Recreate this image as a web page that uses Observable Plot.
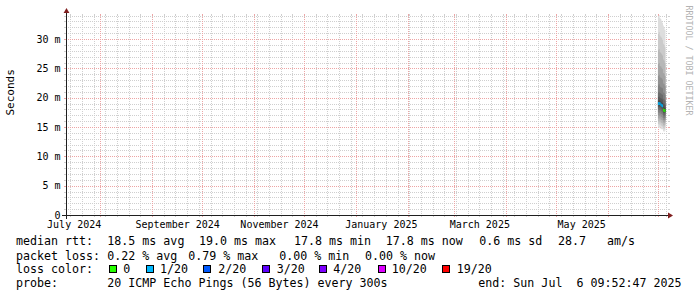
<!DOCTYPE html>
<html><head><meta charset="utf-8">
<script src="https://cdn.jsdelivr.net/npm/d3@7"></script>
<script src="https://cdn.jsdelivr.net/npm/@observablehq/plot@0.6"></script>
<style>
body{margin:0;background:#fff;}
#wrap{position:relative;width:697px;height:297px;background:#fff;overflow:hidden;font-family:"DejaVu Sans Mono",monospace;}
#wrap svg{display:block;}
.lg{position:absolute;font-size:11.65px;line-height:12px;white-space:pre;color:#000;}
.sq{position:absolute;width:6px;height:6px;border:1px solid #000;}
</style></head><body><div id="wrap"></div>
<script>
// ---- data ----
const timeStart = "2024-07-11T09:52:47Z";
const timeEnd = "2025-07-06T09:52:47Z";
const stepTimes = ["2025-07-01T00:00:00Z","2025-07-01T12:00:00Z","2025-07-02T00:00:00Z","2025-07-02T12:00:00Z","2025-07-03T00:00:00Z","2025-07-03T12:00:00Z","2025-07-04T00:00:00Z","2025-07-04T12:00:00Z","2025-07-05T00:00:00Z"];
const stepEnd = "2025-07-05T12:00:00Z";
const medianRtt = [19.0, 19.0, 19.0, 18.8, 18.7, 18.6, 17.9, 17.8, 17.8];
const lossPct = [0.79, 0.30, 0.20, 0.30, 0.20, 0.20, 0, 0, 0];
const pings = [
  [14.9,15.5,16.0,16.5,17.0,17.5,18.0,18.4,18.7,18.9,19.1,19.5,20.1,20.9,22.1,23.7,25.7,28.1,30.9,33.9],
  [14.8,15.4,15.9,16.4,16.9,17.4,17.9,18.3,18.6,18.9,19.1,19.6,20.2,21.0,22.3,23.9,25.9,28.3,31.2,34.1],
  [15.0,15.6,16.1,16.6,17.1,17.6,18.0,18.4,18.7,18.9,19.1,19.5,20.0,20.8,21.9,23.5,25.4,27.8,30.6,33.6],
  [14.7,15.3,15.8,16.3,16.8,17.3,17.8,18.2,18.5,18.7,18.9,19.3,19.9,20.7,21.8,23.4,25.3,27.6,30.4,33.4],
  [14.6,15.2,15.7,16.2,16.7,17.2,17.7,18.1,18.4,18.6,18.8,19.2,19.8,20.6,21.7,23.3,25.1,27.4,30.2,33.1],
  [14.6,15.1,15.6,16.1,16.6,17.1,17.6,18.0,18.3,18.5,18.7,19.1,19.7,20.5,21.6,23.1,24.9,27.2,29.9,32.8],
  [14.3,14.8,15.3,15.8,16.2,16.6,17.0,17.4,17.7,17.8,18.0,18.4,19.0,19.8,20.9,22.4,24.2,26.5,29.2,32.3],
  [14.2,14.7,15.2,15.7,16.1,16.5,16.9,17.3,17.6,17.7,17.9,18.3,18.9,19.7,20.8,22.3,24.1,26.3,29.0,32.0],
  [14.4,14.9,15.4,15.8,16.2,16.6,17.0,17.4,17.6,17.7,17.9,18.3,18.8,19.5,20.5,22.0,23.7,25.9,28.6,31.6]
];
const lossLevels = [0, 1, 2, 3, 4, 10, 19];
const lossLabels = ["0","1/20","2/20","3/20","4/20","10/20","19/20"];
const lossColors = ["#26ff00","#00b8ff","#0059ff","#5e00ff","#7e00ff","#dd00ff","#ff0000"];
const yTicks = [0, 5, 10, 15, 20, 25, 30];
const yTickLabels = ["0","5 m","10 m","15 m","20 m","25 m","30 m"];
const yMax = 34.1;
const xLabelDates = ["2024-07-16T00:00:00Z","2024-09-16T00:00:00Z","2024-11-16T00:00:00Z","2025-01-16T00:00:00Z","2025-03-16T00:00:00Z","2025-05-16T00:00:00Z"];
const xLabels = ["July 2024","September 2024","November 2024","January 2025","March 2025","May 2025"];
const yAxisLabel = "Seconds";
const watermark = "RRDTOOL / TOBI OETIKER";
const legendRtt = ["median rtt:","18.5 ms avg","19.0 ms max","17.8 ms min","17.8 ms now","0.6 ms sd","28.7   am/s"];
const legendLoss = ["packet loss:","0.22 % avg","0.79 % max","0.00 % min","0.00 % now"];
const legendColorTitle = "loss color:";
const legendProbe = ["probe:","20 ICMP Echo Pings (56 Bytes) every 300s","end: Sun Jul  6 09:52:47 2025"];

// ---- build ----
const start = new Date(timeStart), end = new Date(timeEnd);
const weeks = d3.utcSunday.range(start, end);
const months = d3.utcMonth.range(start, end);
const minorY = d3.range(1, 35).filter(v => v % 5 !== 0);
const majorY = yTicks;
const gridGray = "#cfcfcf", gridRed = "#eda5a5", axisCol = "#1f1f1f", arrowCol = "#801f1f";
const crisp = {shapeRendering: "crispEdges"};
const shade = k => { const v = Math.floor(190 / 10 * (10 - (k + 1))) + 50; return `rgb(${v},${v},${v})`; };
const layers = d3.range(10).map(k => {
  const rows = stepTimes.map((t, i) => ({t: new Date(t), lo: pings[i][k], hi: pings[i][19 - k]}));
  const last = pings[pings.length - 1];
  rows.push({t: new Date(stepEnd), lo: last[k], hi: last[19 - k]});
  return rows;
});
const stepEnds = stepTimes.slice(1).concat([stepEnd]);
const lossColorOf = p => { const n = p / 100 * 20; const i = lossLevels.findIndex(l => n <= l); return lossColors[i < 0 ? lossColors.length - 1 : i]; };
const medRows = stepTimes.map((t, i) => ({t0: new Date(t), t1: new Date(stepEnds[i]), lo: medianRtt[i] - 0.25, hi: medianRtt[i] + 0.25, color: lossColorOf(lossPct[i])}));
const yLabMap = new Map(yTicks.map((v, i) => [v, yTickLabels[i]]));
const xLabMap = new Map(xLabelDates.map((d, i) => [+new Date(d), xLabels[i]]));

const tickAx = (fn, vals, anchor, color) => fn(vals, {anchor, tickSize: 2, fill: "none", stroke: color, label: null, ...crisp});

const chart = Plot.plot({
  width: 697, height: 232,
  marginLeft: 66, marginRight: 30, marginTop: 15, marginBottom: 17,
  x: {type: "utc", domain: [start, end], label: null},
  y: {domain: [0, yMax], label: null},
  color: {type: "identity"},
  style: {fontFamily: "'DejaVu Sans Mono', monospace", fontSize: "10px", background: "#fff", color: "#000", overflow: "visible"},
  marks: [
    Plot.ruleY(minorY, {stroke: gridGray, strokeDasharray: "1,1", ...crisp}),
    Plot.ruleX(weeks, {stroke: gridGray, strokeDasharray: "1,1", ...crisp}),
    Plot.ruleY(majorY.filter(v => v > 0), {stroke: gridRed, strokeDasharray: "1,1", ...crisp}),
    Plot.ruleX(months, {stroke: gridRed, strokeDasharray: "1,1", ...crisp}),
    tickAx(Plot.axisY, minorY, "left", gridGray),
    tickAx(Plot.axisY, minorY, "right", gridGray),
    tickAx(Plot.axisY, majorY, "left", gridRed),
    tickAx(Plot.axisY, majorY, "right", gridRed),
    tickAx(Plot.axisX, weeks, "bottom", gridGray),
    tickAx(Plot.axisX, weeks, "top", gridGray),
    tickAx(Plot.axisX, months, "bottom", gridRed),
    tickAx(Plot.axisX, months, "top", gridRed),
    ...layers.map((rows, k) => Plot.area(rows, {x1: "t", y1: "lo", y2: "hi", fill: shade(k), curve: "step-after", clip: true})),
    Plot.rect(medRows, {x1: "t0", x2: "t1", y1: "lo", y2: "hi", fill: "color"}),
    Plot.ruleY([0], {stroke: axisCol, insetLeft: -4, insetRight: -4, ...crisp}),
    Plot.ruleX([start], {stroke: axisCol, insetTop: -4, insetBottom: -4, ...crisp}),
    Plot.dot([0], {frameAnchor: "top-left", symbol: "triangle", r: 2.15, fill: arrowCol, stroke: "none", dy: -4.2}),
    Plot.dot([0], {frameAnchor: "bottom-right", symbol: "triangle", r: 2.15, fill: arrowCol, stroke: "none", rotate: 90, dx: 2.2}),
    Plot.axisY(yTicks, {anchor: "left", tickSize: 0, tickPadding: 6, tickFormat: d => yLabMap.get(d), fill: "#000", label: null}),
    Plot.axisX(xLabelDates.map(d => new Date(d)), {anchor: "bottom", tickSize: 0, tickPadding: 5.5, tickFormat: d => xLabMap.get(+d), fill: "#000", label: null}),
    Plot.text([yAxisLabel], {frameAnchor: "left", text: d => d, rotate: -90, lineAnchor: "bottom", dx: -52.5, fontSize: 11, fill: "#000"}),
    Plot.text([watermark], {frameAnchor: "top-right", text: d => d, rotate: 90, textAnchor: "start", lineAnchor: "bottom", dx: 18, dy: -10, fontSize: 8.3, fill: "#b3b3b3"})
  ]
});
const wrap = document.getElementById("wrap");
wrap.appendChild(chart);

// legend (HTML, below the svg)
const addText = (x, top, s) => { const e = document.createElement("span"); e.className = "lg"; e.style.left = x + "px"; e.style.top = top + "px"; e.textContent = s; wrap.appendChild(e); };
const rttX = [16, 107.3, 199, 294, 385.7, 479.3, 558];
legendRtt.forEach((s, i) => addText(rttX[i], 234.8, s));
const lossX = [16, 107.3, 188.3, 279.3, 365];
legendLoss.forEach((s, i) => addText(lossX[i], 249.5, s));
addText(16, 262.8, legendColorTitle);
const sqX = [109, 146, 203.3, 261.7, 319.3, 378.3, 442.3];
const labX = [123.3, 160, 218.3, 276.7, 333.3, 391.7, 456.7];
lossLabels.forEach((s, i) => {
  const b = document.createElement("span"); b.className = "sq"; b.style.left = sqX[i] + "px"; b.style.top = "265px"; b.style.background = lossColors[i]; wrap.appendChild(b);
  addText(labX[i], 262.8, s);
});
const probeX = [16, 107.3, 478.3];
legendProbe.forEach((s, i) => addText(probeX[i], 277.1, s));
</script></body></html>
